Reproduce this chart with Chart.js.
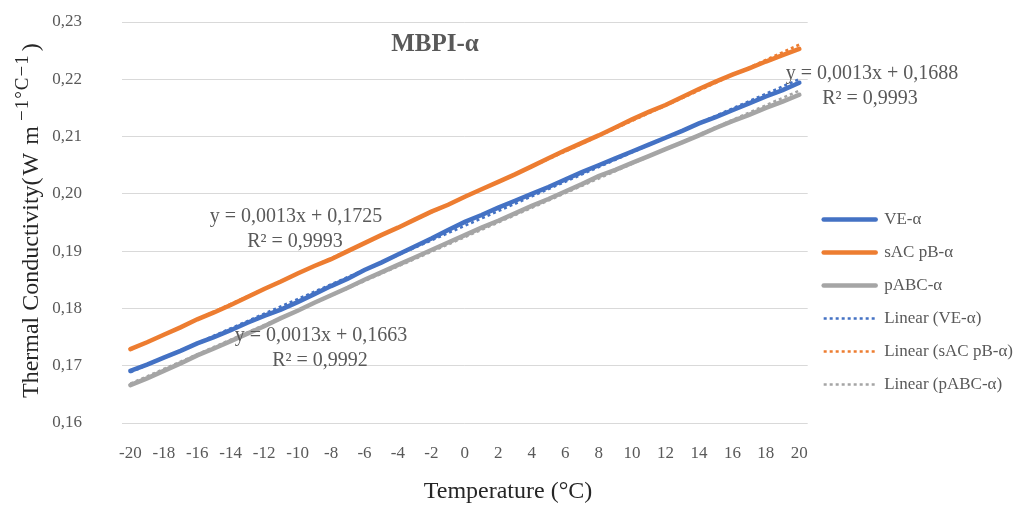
<!DOCTYPE html>
<html>
<head>
<meta charset="utf-8">
<script src="https://cdn.jsdelivr.net/npm/chart.js@4.4.0/dist/chart.umd.min.js"></script>
<style>
  html, body { margin: 0; padding: 0; background: #fff; }
</style>
</head>
<body>
<canvas id="chart" width="1019" height="510"></canvas>
<script>
// temperature categories (°C)
const temperatures = [-20, -19, -18, -17, -16, -15, -14, -13, -12, -11, -10, -9, -8, -7, -6, -5, -4, -3, -2, -1,
  0, 1, 2, 3, 4, 5, 6, 7, 8, 9, 10, 11, 12, 13, 14, 15, 16, 17, 18, 19, 20];

// thermal conductivity, W m-1 °C-1
const veAlpha = [0.1691, 0.1702, 0.1714, 0.1726, 0.1739, 0.1750, 0.1762, 0.1775, 0.1787, 0.1798,
  0.1811, 0.1825, 0.1839, 0.1852, 0.1867, 0.1880, 0.1894, 0.1908, 0.1922, 0.1937,
  0.1951, 0.1963, 0.1976, 0.1988, 0.2000, 0.2012, 0.2025, 0.2038, 0.2050, 0.2062,
  0.2074, 0.2086, 0.2098, 0.2110, 0.2123, 0.2134, 0.2146, 0.2158, 0.2170, 0.2181, 0.2194];
const sacAlpha = [0.1729, 0.1741, 0.1754, 0.1767, 0.1781, 0.1793, 0.1806, 0.1820, 0.1834, 0.1847,
  0.1861, 0.1874, 0.1886, 0.1900, 0.1914, 0.1928, 0.1941, 0.1955, 0.1969, 0.1981,
  0.1995, 0.2008, 0.2021, 0.2034, 0.2048, 0.2062, 0.2076, 0.2089, 0.2102, 0.2116,
  0.2130, 0.2143, 0.2155, 0.2169, 0.2183, 0.2196, 0.2208, 0.2219, 0.2231, 0.2242, 0.2253];
const pabcAlpha = [0.1666, 0.1678, 0.1691, 0.1704, 0.1718, 0.1730, 0.1743, 0.1756, 0.1769, 0.1783,
  0.1796, 0.1810, 0.1823, 0.1836, 0.1850, 0.1863, 0.1876, 0.1889, 0.1902, 0.1915,
  0.1928, 0.1941, 0.1953, 0.1966, 0.1979, 0.1991, 0.2004, 0.2017, 0.2031, 0.2042,
  0.2054, 0.2066, 0.2078, 0.2090, 0.2102, 0.2115, 0.2127, 0.2138, 0.2150, 0.2161, 0.2173];

const seriesNames = ['VE-α', 'sAC pB-α', 'pABC-α'];
const colors = ['#4472C4', '#ED7D31', '#A5A5A5'];

const FONT = "'Liberation Serif', 'Times New Roman', serif";

// least squares line, like Excel's linear trendline
function linearFit(values) {
  const n = values.length;
  let sx = 0, sy = 0, sxx = 0, sxy = 0;
  values.forEach((v, i) => {
    const x = i + 1;
    sx += x; sy += v; sxx += x * x; sxy += x * v;
  });
  const b = (n * sxy - sx * sy) / (n * sxx - sx * sx);
  const a = (sy - b * sx) / n;
  return values.map((v, i) => a + b * (i + 1));
}

const allSeries = [veAlpha, sacAlpha, pabcAlpha];

const solidSets = allSeries.map((vals, i) => ({
  label: seriesNames[i],
  data: vals,
  borderColor: colors[i],
  backgroundColor: colors[i],
  borderWidth: 4.5,
  borderCapStyle: 'round',
  pointRadius: 0,
  tension: 0,
  order: 1
}));
const trendSets = allSeries.map((vals, i) => ({
  label: 'Linear (' + seriesNames[i] + ')',
  data: linearFit(vals),
  borderColor: colors[i],
  backgroundColor: colors[i],
  borderWidth: 2.5,
  borderDash: [3, 3],
  borderCapStyle: 'butt',
  pointRadius: 0,
  tension: 0,
  order: 0
}));

// chart title, axis titles and trendline equations drawn as text boxes
const notes = {
  id: 'notes',
  afterDraw(chart) {
    const ctx = chart.ctx;
    ctx.save();
    ctx.textAlign = 'center';
    ctx.textBaseline = 'middle';
    ctx.fillStyle = '#595959';
    ctx.font = 'bold 25px ' + FONT;
    ctx.fillText('MBPI-α', 435, 45);
    ctx.font = '20px ' + FONT;
    const items = [
      ['y = 0,0013x + 0,1725', 296, 217],
      ['R² = 0,9993', 295, 242],
      ['y = 0,0013x + 0,1663', 321, 336],
      ['R² = 0,9992', 320, 361],
      ['y = 0,0013x + 0,1688', 872, 74],
      ['R² = 0,9993', 870, 99]
    ];
    items.forEach(t => ctx.fillText(t[0], t[1], t[2]));

    ctx.fillStyle = '#262626';
    ctx.font = '24px ' + FONT;
    ctx.fillText('Temperature (°C)', 508, 492);

    // y title with raised exponents
    ctx.translate(38, 398);
    ctx.rotate(-Math.PI / 2);
    ctx.textAlign = 'left';
    ctx.textBaseline = 'alphabetic';
    const parts = [
      ['Thermal Conductivity(', '24px ' + FONT, 0, 0, '0px'],
      ['W m', '24px ' + FONT, 0, 2, '1px'],
      ['\u22121\u00B0C\u22121', '19px ' + FONT, -10, 4, '1px'],
      [')', '24px ' + FONT, 0, 3, '0px']
    ];
    let pos = 0;
    parts.forEach(([text, font, dy, gap, spacing]) => {
      ctx.font = font;
      ctx.letterSpacing = spacing;
      pos += gap;
      ctx.fillText(text, pos, dy);
      pos += ctx.measureText(text).width;
    });
    ctx.restore();
  }
};

new Chart(document.getElementById('chart').getContext('2d'), {
  type: 'line',
  data: {
    labels: temperatures,
    datasets: solidSets.concat(trendSets)
  },
  options: {
    responsive: false,
    animation: false,
    layout: { padding: { top: 22, right: -4, bottom: 0, left: 0 } },
    plugins: {
      tooltip: { enabled: false },
      legend: {
        position: 'right',
        align: 'start',
        title: { display: true, text: ' ', font: { size: 10 }, padding: { top: 161, bottom: 0 } },
        labels: {
          usePointStyle: true,
          pointStyle: 'line',
          pointStyleWidth: 52,
          boxWidth: 52,
          padding: 16,
          color: '#595959',
          font: { family: FONT, size: 17 },
          sort: (a, b) => a.datasetIndex - b.datasetIndex,
          generateLabels(chart) {
            const items = Chart.defaults.plugins.legend.labels.generateLabels(chart);
            items.forEach(it => {
              const ds = chart.data.datasets[it.datasetIndex];
              it.lineWidth = ds.borderWidth;
              it.lineDash = ds.borderDash || [];
              it.lineCap = ds.borderCapStyle;
              it.strokeStyle = ds.borderColor;
            });
            return items;
          }
        }
      }
    },
    scales: {
      x: {
        offset: true,
        grid: { display: false, drawTicks: false },
        border: { display: false },
        ticks: {
          autoSkip: false,
          maxRotation: 0,
          padding: 20,
          color: '#595959',
          font: { family: FONT, size: 17 },
          callback: (v, i) => (temperatures[i] % 2 === 0 ? String(temperatures[i]) : '')
        },
        afterFit: s => { s.height = 87; }
      },
      y: {
        min: 0.16,
        max: 0.23,
        grid: { color: '#d9d9d9', lineWidth: 1, drawTicks: true, tickLength: 38, tickColor: 'rgba(0,0,0,0)' },
        border: { display: false },
        ticks: {
          stepSize: 0.01,
          padding: 2,
          color: '#595959',
          font: { family: FONT, size: 17 },
          callback: v => v.toFixed(2).replace('.', ',')
        },
        afterFit: s => { s.width = 122; }
      }
    }
  },
  plugins: [notes]
});
</script>
</body>
</html>
